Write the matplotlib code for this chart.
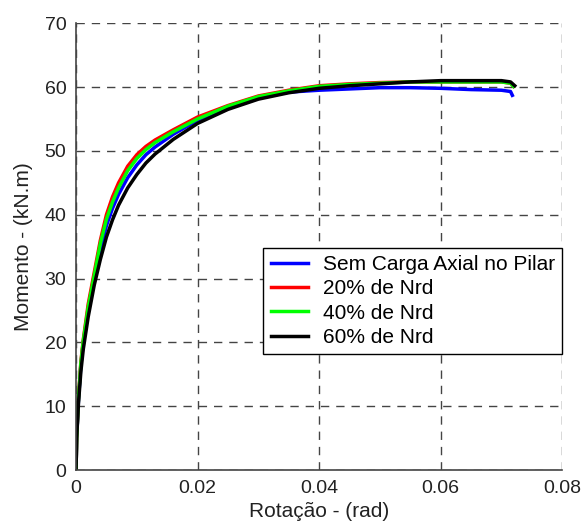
import matplotlib
matplotlib.use("Agg")
import matplotlib.pyplot as plt

plt.rcParams['font.family'] = ['Liberation Sans', 'DejaVu Sans']

# rotation (rad) / moment (kN.m) per load case
rot_sem = [0, 0.0001, 0.0004, 0.0008, 0.0012, 0.002, 0.003, 0.004, 0.005, 0.006, 0.007, 0.0085,
           0.010, 0.0115, 0.013, 0.016, 0.020, 0.025, 0.030, 0.035, 0.040, 0.045, 0.050,
           0.055, 0.060, 0.065, 0.070, 0.0715, 0.0718]
mom_sem = [0, 5, 11, 16.5, 20, 25, 30, 34.5, 38.3, 41, 43.2, 45.8,
           47.8, 49.4, 50.6, 52.6, 54.8, 56.8, 58.3, 59.2, 59.5, 59.7, 59.9,
           59.9, 59.8, 59.6, 59.5, 59.3, 58.7]

rot_20 = [0, 0.0001, 0.0004, 0.0008, 0.0012, 0.002, 0.003, 0.004, 0.005, 0.006, 0.007, 0.0085,
          0.010, 0.0115, 0.013, 0.016, 0.020, 0.025, 0.030, 0.035, 0.040, 0.045, 0.050,
          0.055, 0.060, 0.065, 0.070, 0.0715, 0.0720]
mom_20 = [0, 5, 11.5, 17, 20.5, 26, 31, 36, 40, 42.8, 45, 47.6,
          49.4, 50.7, 51.7, 53.3, 55.3, 57.1, 58.6, 59.5, 60.2, 60.5, 60.7,
          60.8, 60.8, 60.8, 60.8, 60.6, 60.1]

rot_40 = [0, 0.0001, 0.0004, 0.0008, 0.0012, 0.002, 0.003, 0.004, 0.005, 0.006, 0.007, 0.0085,
          0.010, 0.0115, 0.013, 0.016, 0.020, 0.025, 0.030, 0.035, 0.040, 0.045, 0.050,
          0.055, 0.060, 0.065, 0.070, 0.0715, 0.0720]
mom_40 = [0, 5, 11.3, 16.8, 20.3, 25.5, 30.5, 35.5, 39.3, 42, 44.2, 46.9,
          48.8, 50.2, 51.3, 53, 55, 57, 58.5, 59.4, 60.1, 60.4, 60.6,
          60.8, 60.8, 60.8, 60.8, 60.6, 60.1]

rot_60 = [0, 0.0001, 0.0004, 0.0008, 0.0012, 0.002, 0.003, 0.004, 0.005, 0.006, 0.007, 0.0085,
          0.010, 0.0115, 0.013, 0.016, 0.020, 0.025, 0.030, 0.035, 0.040, 0.045, 0.050,
          0.055, 0.060, 0.065, 0.070, 0.0715, 0.0722]
mom_60 = [0, 5, 10.5, 15.5, 19, 24, 29, 33, 36.5, 39.2, 41.5, 44.2,
          46.3, 48.1, 49.5, 51.8, 54.3, 56.5, 58.1, 59.1, 59.8, 60.2, 60.5,
          60.8, 61.0, 61.0, 61.0, 60.8, 60.2]

labels = ['Sem Carga Axial no Pilar', '20% de Nrd', '40% de Nrd', '60% de Nrd']
colors = ['#0000ff', '#ff0000', '#00ff00', '#000000']

fig = plt.figure(figsize=(5.85, 5.27), dpi=100)
ax = fig.add_axes([0.130, 0.108, 0.831, 0.848])

ax.plot(rot_sem, mom_sem, color=colors[0], lw=2.5, label=labels[0])
ax.plot(rot_20, mom_20, color=colors[1], lw=2.5, label=labels[1])
ax.plot(rot_40, mom_40, color=colors[2], lw=2.5, label=labels[2])
ax.plot(rot_60, mom_60, color=colors[3], lw=2.5, label=labels[3])

ax.set_xlim(0, 0.08)
ax.set_ylim(0, 70)
ax.set_xticks([0, 0.02, 0.04, 0.06, 0.08])
ax.set_xticklabels(['0', '0.02', '0.04', '0.06', '0.08'])
ax.set_yticks(range(0, 71, 10))
ax.grid(True, color='#444444', linestyle=(0, (6, 5)), linewidth=1.0)
ax.tick_params(length=0, labelsize=14, colors='#222222', pad=7)
for s in ['top', 'right']:
    ax.spines[s].set_visible(False)
for s in ['left', 'bottom']:
    ax.spines[s].set_color('#444444')
    ax.spines[s].set_linewidth(1.2)

ax.set_xlabel('Rotação - (rad)', fontsize=15, color='#222222', labelpad=4)
ax.set_ylabel('Momento - (kN.m)', fontsize=15, color='#222222', labelpad=8)

leg = ax.legend(loc='upper left', bbox_to_anchor=(0.385, 0.497), fontsize=15,
                frameon=True, fancybox=False, handlelength=1.8, handletextpad=0.7,
                borderpad=0.35, labelspacing=0.25, borderaxespad=0)
leg.get_frame().set_edgecolor('black')
leg.get_frame().set_linewidth(1.0)
leg.get_frame().set_alpha(1)

fig.savefig('out.png', dpi=100)
